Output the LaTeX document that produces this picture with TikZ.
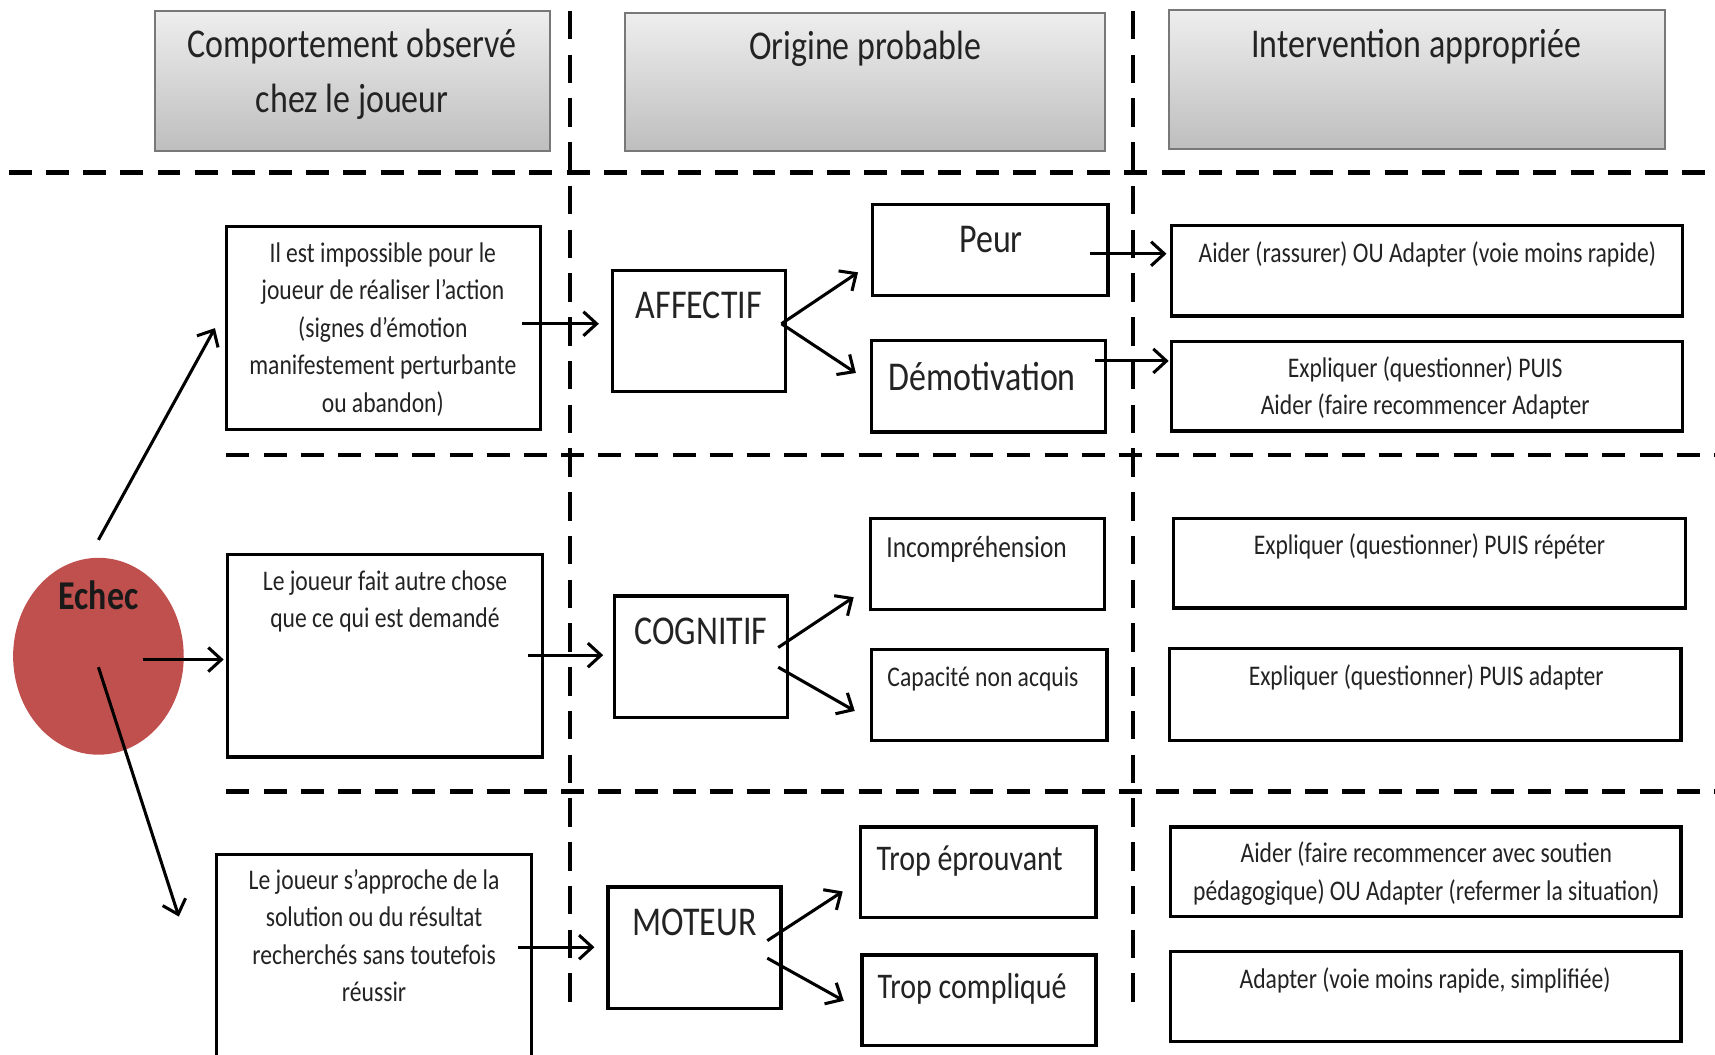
\documentclass[tikz,border=0pt]{standalone}
\usepackage{fontspec}
\setmainfont{Carlito}[FakeStretch=0.83]
\usetikzlibrary{arrows.meta,shapes.geometric}
\definecolor{echecred}{RGB}{192,80,77}
\definecolor{txt}{RGB}{35,35,35}
\definecolor{hdrtop}{RGB}{238,238,238}
\definecolor{hdrbot}{RGB}{190,190,190}
\definecolor{hdrline}{RGB}{120,120,120}
\begin{document}
\begin{tikzpicture}[x=0.5pt,y=-0.5pt,
  hdr/.style={draw=hdrline, line width=0.9pt, top color=hdrtop, bottom color=hdrbot, inner sep=0},
  box/.style={draw=black, line width=1.5pt, fill=white, inner sep=0},
  lbl/.style={inner sep=0, text=txt, align=center, anchor=base},
  big/.style={font=\fontsize{18.7}{25}\selectfont},
  small/.style={font=\fontsize{13}{17.15}\selectfont},
  arr/.style={line width=1.4pt, -{Straight Barb[length=6pt,width=11pt]}},
  sep/.style={line width=2.2pt, dash pattern=on 10.5pt off 6.5pt},
  vsep/.style={line width=1.6pt, dash pattern=on 13pt off 7pt}]
\useasboundingbox (0,0) rectangle (1568,964);

% separators
\draw[sep] (8,158) -- (1568,158);
\draw[sep] (207,416) -- (1568,416);
\draw[sep] (207,724) -- (1568,724);
\draw[vsep] (521,10) -- (521,925);
\draw[vsep] (1036,10) -- (1036,925);

% headers
\node[hdr, minimum width=180.5pt, minimum height=64pt] (h1) at (322.5,74) {};
\node[hdr, minimum width=219.5pt, minimum height=63pt] (h2) at (790.5,75) {};
\node[hdr, minimum width=226.5pt, minimum height=63.5pt] (h3) at (1295.5,72.5) {};
\node[lbl,big] (h1t) at (322,103) {Comportement observé\\chez le joueur};
\node[lbl,big] (h2t) at (791,54) {Origine probable};
\node[lbl,big] (h3t) at (1295,53) {Intervention appropriée};

% Echec
\node[ellipse, fill=echecred, minimum width=78pt, minimum height=90pt, inner sep=0] (echec) at (90,600) {};
\node[lbl, font={\fontsize{18.7}{25}\selectfont\bfseries}, text=black!90] (echect) at (90,557) {Echec};

% column 1
\node[box, minimum width=143.5pt, minimum height=93pt] (b1) at (350.5,300) {};
\node[box, minimum width=144pt, minimum height=92.5pt] (b2) at (352,599.5) {};
\node[box, minimum width=144pt, minimum height=95.5pt] (b3) at (342,876.5) {};
\node[lbl,small] (b1t) at (350,377) {Il est impossible pour le\\joueur de réaliser l’action\\(signes d’émotion\\manifestement perturbante\\ou abandon)};
\node[lbl,small] (b2t) at (352,574) {Le joueur fait autre chose\\que ce qui est demandé};
\node[lbl,small] (b3t) at (342,916) {Le joueur s’approche de la\\solution ou du résultat\\recherchés sans toutefois\\réussir};

% column 2
\node[box, minimum width=79pt, minimum height=55.5pt] (affectif) at (639,302.5) {};
\node[box, minimum width=79pt, minimum height=55.5pt] (cognitif) at (641,600.5) {};
\node[box, minimum width=79pt, minimum height=55.5pt] (moteur) at (635,866.5) {};
\node[lbl,big] (affectift) at (639,291) {AFFECTIF};
\node[lbl,big] (cognitift) at (641,589) {COGNITIF};
\node[lbl,big] (moteurt) at (635,855) {MOTEUR};

% sub-origins
\node[box, minimum width=107.5pt, minimum height=41.5pt] (peur) at (905.5,228.5) {};
\node[box, minimum width=107pt, minimum height=42pt] (demot) at (904,353) {};
\node[box, minimum width=107pt, minimum height=41.5pt] (incomp) at (903,515.5) {};
\node[box, minimum width=107.5pt, minimum height=41.5pt] (capac) at (904.5,635.5) {};
\node[box, minimum width=107.5pt, minimum height=41.5pt] (tropep) at (894.5,797.5) {};
\node[box, minimum width=107pt, minimum height=41.5pt] (tropco) at (895,914.5) {};
\node[lbl,big] (peurt) at (906,231) {Peur};
\node[lbl,big,anchor=base west] (demott) at (812,357) {Démotivation};
\node[lbl,font=\fontsize{14}{17}\selectfont,anchor=base west] (incompt) at (810,510) {Incompréhension};
\node[lbl,small,anchor=base west] (capact) at (811,628) {Capacité non acquis};
\node[lbl,font=\fontsize{16.5}{20}\selectfont,anchor=base west] (tropept) at (801,796) {Trop éprouvant};
\node[lbl,font=\fontsize{16.5}{20}\selectfont,anchor=base west] (tropcot) at (802,913) {Trop compliqué};

% interventions
\node[box, minimum width=233.5pt, minimum height=41.5pt] (i1) at (1304.5,247.5) {};
\node[box, minimum width=233.5pt, minimum height=41pt] (i2) at (1304.5,353) {};
\node[box, minimum width=234pt, minimum height=41pt] (i3) at (1307,515) {};
\node[box, minimum width=234pt, minimum height=42pt] (i4) at (1303,635) {};
\node[box, minimum width=233.5pt, minimum height=41pt] (i5) at (1303.5,797) {};
\node[box, minimum width=233.5pt, minimum height=41pt] (i6) at (1303.5,911) {};
\node[lbl,small] (i1t) at (1305,240) {Aider (rassurer) OU Adapter (voie moins rapide)};
\node[lbl,small] (i2t) at (1303,379) {Expliquer (questionner) PUIS\\Aider (faire recommencer Adapter};
\node[lbl,small] (i3t) at (1307,507) {Expliquer (questionner) PUIS répéter};
\node[lbl,small] (i4t) at (1304,627) {Expliquer (questionner) PUIS adapter};
\node[lbl,small] (i5t) at (1304,823) {Aider (faire recommencer avec soutien\\pédagogique) OU Adapter (refermer la situation)};
\node[lbl,small] (i6t) at (1303,904) {Adapter (voie moins rapide, simplifiée)};

% arrows
\draw[arr] ([shift={(0,-16)}]echec.north) -- ([shift={(-9,0)}]b1.west);
\draw[arr] ([shift={(41,3)}]echec.center) -- ([shift={(-2,3.5)}]b2.west);
\draw[arr] ([shift={(0,10)}]echec.center) -- ([shift={(-33,-38.5)}]b3.west);
\draw[arr] ([shift={(-18,-4)}]b1.east) -- ([shift={(-11,-6.5)}]affectif.west);
\draw[arr] ([shift={(-15,-0.5)}]b2.east) -- ([shift={(-9,-1.5)}]cognitif.west);
\draw[arr] ([shift={(-14,-10.5)}]b3.east) -- ([shift={(-11,-0.5)}]moteur.west);
\draw[arr] ([shift={(-5,-6.5)}]affectif.east) -- ([shift={(-12,20.5)}]peur.west);
\draw[arr] ([shift={(-5,-6.5)}]affectif.east) -- ([shift={(-13,-12)}]demot.west);
\draw[arr] ([shift={(-10,-8.5)}]cognitif.east) -- ([shift={(-14,30.5)}]incomp.west);
\draw[arr] ([shift={(-10,9.5)}]cognitif.east) -- ([shift={(-14,14.5)}]capac.west);
\draw[arr] ([shift={(-14,-6.5)}]moteur.east) -- ([shift={(-15,17.5)}]tropep.west);
\draw[arr] ([shift={(-14,9.5)}]moteur.east) -- ([shift={(-15,0.5)}]tropco.west);
\draw[arr] ([shift={(-18,3.5)}]peur.east) -- ([shift={(-3,-15.5)}]i1.west);
\draw[arr] ([shift={(-11,-23)}]demot.east) -- ([shift={(-1,-23)}]i2.west);
\end{tikzpicture}
\end{document}
